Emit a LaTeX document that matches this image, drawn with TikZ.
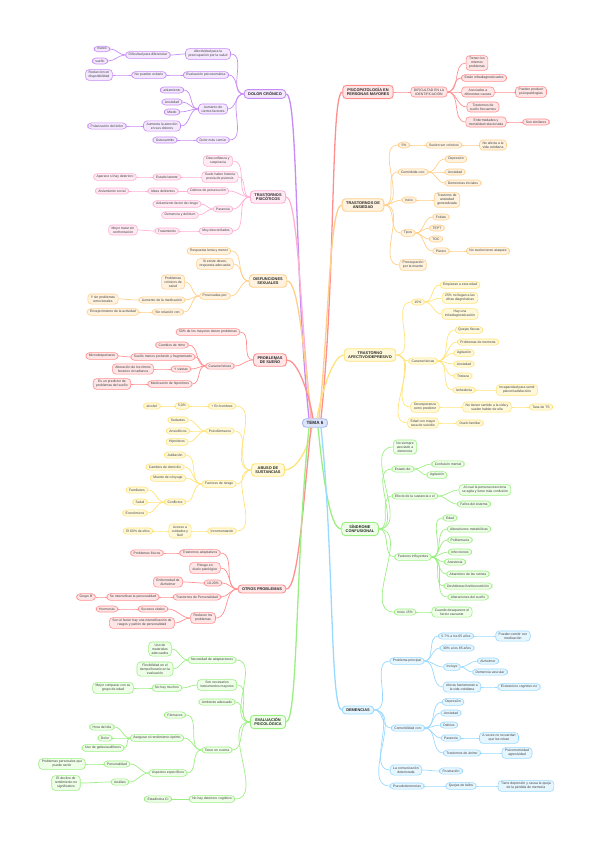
\documentclass[tikz,border=0pt]{standalone}
\usepackage{fontspec}
\setmainfont{Liberation Sans}
\usetikzlibrary{positioning}

\definecolor{purpL}{HTML}{C78BF5}\definecolor{purpF}{HTML}{F4E8FF}
\definecolor{pinkL}{HTML}{FFB0D5}\definecolor{pinkF}{HTML}{FFEAF3}
\definecolor{orngL}{HTML}{FFCF8A}\definecolor{orngF}{HTML}{FFF2DF}
\definecolor{redL}{HTML}{FF8F8F}\definecolor{redF}{HTML}{FFE5E5}
\definecolor{yellL}{HTML}{FFE37A}\definecolor{yellF}{HTML}{FFF9DA}
\definecolor{grnL}{HTML}{9BEF82}\definecolor{grnF}{HTML}{EDFFE6}
\definecolor{bluL}{HTML}{9AD9FF}\definecolor{bluF}{HTML}{E6F6FF}
\definecolor{temaL}{HTML}{A9B9F2}\definecolor{temaF}{HTML}{DDE5FB}

\tikzset{
  bx/.style={draw=#1L, fill=#1F, rounded corners=3.5pt, line width=0.6pt,
    inner xsep=3pt, inner ysep=1.8pt, align=center, text=black!75,
    font=\fontsize{3.4}{4}\selectfont},
  hub/.style={bx=#1, line width=0.9pt, inner xsep=4pt, inner ysep=2.6pt,
    text=black!85, font=\fontsize{3.9}{4.5}\selectfont\bfseries},
  ln/.style={draw=#1L, line width=0.7pt},
  hubln/.style={draw=#1L, line width=1.3pt},
}

\begin{document}
\begin{tikzpicture}[x=1pt, y=1pt]
    \useasboundingbox (0,0) rectangle (599,-848);

    % centre
    \node[hub=tema, font=\fontsize{4.6}{5}\selectfont\bfseries] (tema) at (315,-423) {TEMA 6};

    % ---------------- left side ----------------
    % dolor cronico
    \node[hub=purp] (dol) at (265,-94) {DOLOR CRÓNICO};
    \node[bx=purp] (d1) at (208,-54) {Afectividad para la\\preocupación por la salud};
    \node[bx=purp] (d11) at (148,-55) {Dificultad para diferenciar};
    \node[bx=purp] (d111) at (102,-49) {mareo};
    \node[bx=purp] (d112) at (100,-61) {sueño};
    \node[bx=purp] (d2) at (206,-75) {Evaluación psicosomática};
    \node[bx=purp] (d21) at (149,-75) {No pueden evitarlo};
    \node[bx=purp] (d211) at (99,-75) {Reducción en\\disponibilidad};
    \node[bx=purp] (d3) at (213,-109) {Aumento de\\ciertos factores};
    \node[bx=purp] (d31) at (172,-90) {aislamiento};
    \node[bx=purp] (d32) at (172,-102) {Ansiedad};
    \node[bx=purp] (d33) at (172,-112) {Miedo};
    \node[bx=purp] (d34) at (162,-126) {Aumenta la atención\\en sus dolores};
    \node[bx=purp] (d341) at (107,-126) {Polarización del dolor};
    \node[bx=purp] (d4) at (213,-140) {Dolor más común};
    \node[bx=purp] (d41) at (165,-140) {Osteoartritis};

    % trastornos psicoticos
    \node[hub=pink] (psc) at (268,-197) {TRASTORNOS\\PSICÓTICOS};
    \node[bx=pink] (p1) at (218,-161) {Desconfianza y\\suspicacia};
    \node[bx=pink] (p2) at (220,-177) {Suele haber historia\\previa de psicosis};
    \node[bx=pink] (p21) at (167,-177) {Estado latente};
    \node[bx=pink] (p211) at (115,-177) {Aparece si hay deterioro};
    \node[bx=pink] (p3) at (208,-191) {Delirios de persecución};
    \node[bx=pink] (p31) at (163,-191) {Ideas delirantes};
    \node[bx=pink] (p311) at (112,-191) {Aislamiento social};
    \node[bx=pink] (p4) at (223,-209) {Paranoia};
    \node[bx=pink] (p41) at (177,-204) {Aislamiento factor de riesgo};
    \node[bx=pink] (p42) at (180,-215) {Demencia y delirium};
    \node[bx=pink] (p5) at (216,-231) {Muy desconfiados};
    \node[bx=pink] (p51) at (167,-231) {Tratamiento};
    \node[bx=pink] (p511) at (123,-230) {Mejor tratar sin\\confrontación};

    % disfunciones sexuales
    \node[hub=orng] (dsx) at (268,-281) {DISFUNCIONES\\SEXUALES};
    \node[bx=orng] (s1) at (209,-251) {Respuesta lenta y menor};
    \node[bx=orng] (s2) at (215,-264) {Si existe deseo,\\respuesta adecuada};
    \node[bx=orng] (s3) at (215,-296) {Provocadas por:};
    \node[bx=orng] (s31) at (173,-282) {Problemas\\crónicos de\\salud};
    \node[bx=orng] (s32) at (162,-300) {Aumento de la medicación};
    \node[bx=orng] (s321) at (103,-299) {Y sin problemas\\emocionales};
    \node[bx=orng] (s33) at (168,-312) {Sin relación con:};
    \node[bx=orng] (s331) at (113,-312) {Envejecimiento de la actividad};

    % problemas de sueno
    \node[hub=red] (sue) at (270,-360) {PROBLEMAS\\DE SUEÑO};
    \node[bx=red] (u1) at (208,-332) {50\% de los mayores tienen problemas};
    \node[bx=red] (u2) at (220,-366) {Características};
    \node[bx=red] (u21) at (172,-345) {Cambios de ritmo};
    \node[bx=red] (u22) at (163,-357) {Sueño menos profundo y fragmentado};
    \node[bx=red] (u221) at (102,-356) {Microdespertares};
    \node[bx=red] (u23) at (181,-369) {Y siestas};
    \node[bx=red] (u231) at (133,-369) {Alteración de los ritmos\\horarios circadianos};
    \node[bx=red] (u24) at (170,-384) {Medicación de hipnóticos};
    \node[bx=red] (u241) at (112,-384) {Es un predictor de\\problemas del sueño};

    % abuso de sustancias
    \node[hub=yell] (abu) at (268,-470) {ABUSO DE\\SUSTANCIAS};
    \node[bx=yell] (a1) at (222,-406) {+ En hombres};
    \node[bx=yell] (a11) at (182,-406) {5,0\%};
    \node[bx=yell] (a111) at (152,-406) {alcohol};
    \node[bx=yell] (a2) at (220,-431) {Psicofármacos};
    \node[bx=yell] (a21) at (178,-420) {Sedantes};
    \node[bx=yell] (a22) at (178,-431) {Ansiolíticos};
    \node[bx=yell] (a23) at (177,-442) {Hipnóticos};
    \node[bx=yell] (a3) at (219,-484) {Factores de riesgo};
    \node[bx=yell] (a31) at (175,-455) {Jubilación};
    \node[bx=yell] (a32) at (165,-467) {Cambios de domicilio};
    \node[bx=yell] (a33) at (168,-478) {Muerte de cónyuge};
    \node[bx=yell] (a34) at (175,-502) {Conflictos};
    \node[bx=yell] (a341) at (137,-490) {Familiares};
    \node[bx=yell] (a342) at (140,-502) {Salud};
    \node[bx=yell] (a343) at (135,-513) {Económicos};
    \node[bx=yell] (a4) at (222,-531) {Incrementando};
    \node[bx=yell] (a41) at (180,-531) {Acceso a\\cuidados y\\fácil};
    \node[bx=yell] (a411) at (138,-531) {El 60\% de ellos};

    % otros problemas
    \node[hub=red] (otr) at (262,-589) {OTROS PROBLEMAS};
    \node[bx=red] (o1) at (200,-553) {Trastornos adaptativos};
    \node[bx=red] (o11) at (147,-553) {Problemas físicos};
    \node[bx=red] (o2) at (205,-568) {Riesgo en\\duelo patológico};
    \node[bx=red] (o3) at (213,-583) {10-20\%};
    \node[bx=red] (o31) at (168,-582) {Enfermedad de\\Alzheimer};
    \node[bx=red] (o4) at (197,-597) {Trastornos de Personalidad};
    \node[bx=red] (o41) at (133,-597) {Se intensifican la personalidad};
    \node[bx=red] (o411) at (86,-597) {Grupo B};
    \node[bx=red] (o5) at (203,-618) {Reducen los\\problemas};
    \node[bx=red] (o51) at (153,-609) {Sucesos vitales};
    \node[bx=red] (o511) at (107,-609) {Hormonas};
    \node[bx=red] (o52) at (142,-623) {Son el factor hay una intensificación de\\rasgos y patrón de personalidad};

    % evaluacion psicologica
    \node[hub=grn] (eva) at (268,-722) {EVALUACIÓN\\PSICOLÓGICA};
    \node[bx=grn] (e1) at (212,-660) {Necesidad de adaptaciones};
    \node[bx=grn] (e11) at (160,-649) {Uso de\\materiales\\adecuados};
    \node[bx=grn] (e12) at (155,-669) {Flexibilidad en el\\tiempo/horario en la\\evaluación};
    \node[bx=grn] (e2) at (217,-685) {Son necesarios\\instrumentos mayores};
    \node[bx=grn] (e21) at (167,-688) {No hay muchos};
    \node[bx=grn] (e211) at (113,-688) {Mejor comparar con su\\grupo de edad};
    \node[bx=grn] (e3) at (217,-702) {Ambiente adecuado};
    \node[bx=grn] (e4) at (217,-750) {Tener en cuenta};
    \node[bx=grn] (e41) at (175,-715) {Fármacos};
    \node[bx=grn] (e42) at (157,-738) {Asegurar el rendimiento óptimo};
    \node[bx=grn] (e421) at (102,-727) {Hora del día};
    \node[bx=grn] (e422) at (105,-738) {Dolor};
    \node[bx=grn] (e423) at (103,-748) {Uso de gafas/audífonos};
    \node[bx=grn] (e43) at (168,-773) {Aspectos específicos};
    \node[bx=grn] (e431) at (117,-764) {Personalidad};
    \node[bx=grn] (e4311) at (62,-764) {Problemas personales que\\puede sentir};
    \node[bx=grn] (e432) at (120,-782) {Análisis};
    \node[bx=grn] (e4321) at (66,-783) {El declive de\\rendimiento no\\significativo};
    \node[bx=grn] (e5) at (212,-799) {No hay deterioro cognitivo};
    \node[bx=grn] (e51) at (158,-799) {Estadística CI};

    % ---------------- right side ----------------
    % psicopatologia
    \node[hub=red] (psi) at (368,-92) {PSICOPATOLOGÍA EN\\PERSONAS MAYORES};
    \node[bx=red] (r1) at (429,-92) {DIFICULTAD EN LA\\IDENTIFICACIÓN};
    \node[bx=red] (r11) at (477,-63) {Tienen los\\mismos\\problemas};
    \node[bx=red] (r12) at (484,-78) {Están infradiagnosticados};
    \node[bx=red] (r13) at (478,-92) {Asociados a\\diferentes causas};
    \node[bx=red] (r131) at (531,-92) {Pueden producir\\psicopatologías};
    \node[bx=red] (r14) at (483,-107) {Trastornos de\\sueño frecuentes};
    \node[bx=red] (r15) at (486,-122) {Enfermedades y\\mortalidad relacionada};
    \node[bx=red] (r151) at (536,-122) {Son similares};

    % ansiedad
    \node[hub=orng] (ans) at (363,-205) {TRASTORNOS DE\\ANSIEDAD};
    \node[bx=orng] (n1) at (404,-145) {5\%};
    \node[bx=orng] (n11) at (444,-145) {Suelen ser crónicos};
    \node[bx=orng] (n111) at (493,-145) {No afecta a la\\vida cotidiana};
    \node[bx=orng] (n2) at (413,-172) {Comórbida con:};
    \node[bx=orng] (n21) at (456,-159) {Depresión};
    \node[bx=orng] (n22) at (455,-172) {Ansiedad};
    \node[bx=orng] (n23) at (463,-183) {Demencias iniciales};
    \node[bx=orng] (n3) at (409,-200) {Inicio};
    \node[bx=orng] (n31) at (447,-200) {Trastorno de\\ansiedad\\generalizada};
    \node[bx=orng] (n4) at (408,-233) {Tipos};
    \node[bx=orng] (n41) at (441,-217) {Fobias};
    \node[bx=orng] (n42) at (437,-228) {TEPT};
    \node[bx=orng] (n43) at (436,-239) {TOC};
    \node[bx=orng] (n44) at (441,-251) {Pánico};
    \node[bx=orng] (n441) at (488,-251) {No suelen tener ataques};
    \node[bx=orng] (n5) at (413,-265) {Preocupación\\por la muerte};

    % afectivo / depresivo
    \node[hub=yell] (afe) at (370,-355) {TRASTORNO\\AFECTIVO/DEPRESIVO};
    \node[bx=yell] (f1) at (418,-302) {15\%};
    \node[bx=yell] (f11) at (460,-285) {Empiezan a esta edad};
    \node[bx=yell] (f12) at (460,-298) {25\% no llegan a las\\cifras diagnósticas};
    \node[bx=yell] (f13) at (460,-314) {Hay una\\infradiagnosticación};
    \node[bx=yell] (f2) at (423,-361) {Características};
    \node[bx=yell] (f21) at (469,-330) {Quejas físicas};
    \node[bx=yell] (f22) at (478,-342) {Problemas de memoria};
    \node[bx=yell] (f23) at (464,-353) {Agitación};
    \node[bx=yell] (f24) at (464,-364) {Ansiedad};
    \node[bx=yell] (f25) at (463,-376) {Tristeza};
    \node[bx=yell] (f26) at (464,-390) {Anhedonia};
    \node[bx=yell] (f261) at (517,-390) {Incapacidad para sentir\\placer/satisfacción};
    \node[bx=yell] (f3) at (425,-407) {Desesperanza\\como predictor};
    \node[bx=yell] (f31) at (487,-407) {No tienen sentido a la vida y\\suelen hablar de ella};
    \node[bx=yell] (f311) at (541,-407) {Tasa de TS};
    \node[bx=yell] (f4) at (423,-423) {Edad con mayor\\tasa de suicidio};
    \node[bx=yell] (f41) at (470,-423) {Duelo familiar};

    % delirium
    \node[hub=grn] (del) at (360,-529) {SÍNDROME\\CONFUSIONAL};
    \node[bx=grn] (l1) at (405,-447) {No siempre\\asociado a\\demencia};
    \node[bx=grn] (l2) at (403,-469) {Estado de:};
    \node[bx=grn] (l21) at (448,-464) {Confusión mental};
    \node[bx=grn] (l22) at (437,-475) {Agitación};
    \node[bx=grn] (l3) at (415,-496) {Efecto de la sustancia o el};
    \node[bx=grn] (l31) at (485,-490) {Al cual la persona reacciona\\se agita y tiene más confusión};
    \node[bx=grn] (l32) at (474,-504) {Fallos del sistema};
    \node[bx=grn] (l4) at (413,-557) {Factores influyentes};
    \node[bx=grn] (l41) at (450,-518) {Edad};
    \node[bx=grn] (l42) at (469,-529) {Alteraciones metabólicas};
    \node[bx=grn] (l43) at (460,-540) {Polifarmacia};
    \node[bx=grn] (l44) at (460,-552) {Infecciones};
    \node[bx=grn] (l45) at (455,-562) {Anestesia};
    \node[bx=grn] (l46) at (468,-574) {Abandono de las rutinas};
    \node[bx=grn] (l47) at (468,-586) {Deshidratación/desnutrición};
    \node[bx=grn] (l48) at (468,-597) {Alteraciones del sueño};
    \node[bx=grn] (l5) at (405,-612) {Inicio 15\%};
    \node[bx=grn] (l51) at (452,-612) {Cuando desaparece el\\factor causante};

    % demencias
    \node[hub=blu] (dem) at (358,-710) {DEMENCIAS};
    \node[bx=blu] (m1) at (407,-661) {Problema principal};
    \node[bx=blu] (m11) at (456,-636) {5-7\% a los 65 años};
    \node[bx=blu] (m111) at (513,-636) {Pueden remitir con\\medicación};
    \node[bx=blu] (m12) at (457,-648) {30\% a los 85 años};
    \node[bx=blu] (m13) at (452,-667) {Incluye};
    \node[bx=blu] (m131) at (488,-661) {Alzheimer};
    \node[bx=blu] (m132) at (490,-672) {Demencia vascular};
    \node[bx=blu] (m14) at (462,-687) {Afecta fuertemente a\\la vida cotidiana};
    \node[bx=blu] (m141) at (519,-687) {El deterioro cognitivo no};
    \node[bx=blu] (m2) at (408,-728) {Comorbilidad con:};
    \node[bx=blu] (m21) at (453,-702) {Depresión};
    \node[bx=blu] (m22) at (451,-713) {Ansiedad};
    \node[bx=blu] (m23) at (449,-725) {Delirios};
    \node[bx=blu] (m24) at (451,-738) {Paranoia};
    \node[bx=blu] (m241) at (499,-738) {A veces no recuerdan\\que les roban};
    \node[bx=blu] (m25) at (462,-753) {Trastornos de ánimo};
    \node[bx=blu] (m251) at (517,-753) {Psicomotricidad\\agresividad};
    \node[bx=blu] (m3) at (406,-770) {La comunicación\\deteriorada};
    \node[bx=blu] (m31) at (451,-771) {Frustración};
    \node[bx=blu] (m4) at (407,-786) {Pseudodemencias};
    \node[bx=blu] (m41) at (461,-786) {Quejas de fallos};
    \node[bx=blu] (m411) at (526,-786) {Tiene depresión y causa la queja\\de la pérdida de memoria};

    % ---------------- branches to the centre ----------------
    \begin{scope}[on background layer/.try]
    \draw[hubln=purp] (dol.east) to[out=0,in=96,out distance=12pt,in distance=140pt] ([xshift=-6pt]tema.north);
    \draw[hubln=pink] (psc.east) to[out=0,in=96,out distance=12pt,in distance=100pt] ([xshift=-4pt]tema.north);
    \draw[hubln=orng] (dsx.east) to[out=0,in=98,out distance=12pt,in distance=60pt] ([xshift=-3pt]tema.north);
    \draw[hubln=red] (sue.east) to[out=0,in=100,out distance=10pt,in distance=30pt] ([xshift=-2pt]tema.north);
    \draw[hubln=yell] (abu.east) to[out=0,in=-100,out distance=10pt,in distance=25pt] ([xshift=-3pt]tema.south);
    \draw[hubln=red] (otr.east) to[out=0,in=-96,out distance=12pt,in distance=75pt] ([xshift=-4pt]tema.south);
    \draw[hubln=grn] (eva.east) to[out=0,in=-96,out distance=12pt,in distance=130pt] ([xshift=-6pt]tema.south);
    \draw[hubln=red] (psi.west) to[out=180,in=84,out distance=12pt,in distance=145pt] ([xshift=6pt]tema.north);
    \draw[hubln=orng] (ans.west) to[out=180,in=84,out distance=12pt,in distance=95pt] ([xshift=4pt]tema.north);
    \draw[hubln=yell] (afe.west) to[out=180,in=80,out distance=10pt,in distance=30pt] ([xshift=2pt]tema.north);
    \draw[hubln=grn] (del.west) to[out=180,in=-84,out distance=12pt,in distance=45pt] ([xshift=3pt]tema.south);
    \draw[hubln=blu] (dem.west) to[out=180,in=-84,out distance=12pt,in distance=125pt] ([xshift=6pt]tema.south);
    \end{scope}

    % ---------------- child connectors ----------------
    \foreach \p/\c in {dol/d1, d1/d11, d11/d111, d11/d112, dol/d2, d2/d21, d21/d211,
        dol/d3, d3/d31, d3/d32, d3/d33, d3/d34, d34/d341, dol/d4, d4/d41}
      \draw[ln=purp] (\p.west) to[out=180,in=0] (\c.east);
    \foreach \p/\c in {psc/p1, psc/p2, p2/p21, p21/p211, psc/p3, p3/p31, p31/p311,
        psc/p4, p4/p41, p4/p42, psc/p5, p5/p51, p51/p511}
      \draw[ln=pink] (\p.west) to[out=180,in=0] (\c.east);
    \foreach \p/\c in {dsx/s1, dsx/s2, dsx/s3, s3/s31, s3/s32, s32/s321, s3/s33, s33/s331}
      \draw[ln=orng] (\p.west) to[out=180,in=0] (\c.east);
    \foreach \p/\c in {sue/u1, sue/u2, u2/u21, u2/u22, u22/u221, u2/u23, u23/u231, u2/u24, u24/u241,
        otr/o1, o1/o11, otr/o2, otr/o3, o3/o31, otr/o4, o4/o41, o41/o411, otr/o5, o5/o51, o51/o511, o5/o52}
      \draw[ln=red] (\p.west) to[out=180,in=0] (\c.east);
    \foreach \p/\c in {abu/a1, a1/a11, a11/a111, abu/a2, a2/a21, a2/a22, a2/a23, abu/a3, a3/a31,
        a3/a32, a3/a33, a3/a34, a34/a341, a34/a342, a34/a343, abu/a4, a4/a41, a41/a411}
      \draw[ln=yell] (\p.west) to[out=180,in=0] (\c.east);
    \foreach \p/\c in {eva/e1, e1/e11, e1/e12, eva/e2, e2/e21, e21/e211, eva/e3, eva/e4, e4/e41,
        e4/e42, e42/e421, e42/e422, e42/e423, e4/e43, e43/e431, e431/e4311, e43/e432, e432/e4321,
        eva/e5, e5/e51}
      \draw[ln=grn] (\p.west) to[out=180,in=0] (\c.east);

    \foreach \p/\c in {psi/r1, r1/r11, r1/r12, r1/r13, r13/r131, r1/r14, r1/r15, r15/r151}
      \draw[ln=red] (\p.east) to[out=0,in=180] (\c.west);
    \foreach \p/\c in {ans/n1, n1/n11, n11/n111, ans/n2, n2/n21, n2/n22, n2/n23, ans/n3, n3/n31,
        ans/n4, n4/n41, n4/n42, n4/n43, n4/n44, n44/n441, ans/n5}
      \draw[ln=orng] (\p.east) to[out=0,in=180] (\c.west);
    \foreach \p/\c in {afe/f1, f1/f11, f1/f12, f1/f13, afe/f2, f2/f21, f2/f22, f2/f23, f2/f24,
        f2/f25, f2/f26, f26/f261, afe/f3, f3/f31, f31/f311, afe/f4, f4/f41}
      \draw[ln=yell] (\p.east) to[out=0,in=180] (\c.west);
    \foreach \p/\c in {del/l1, del/l2, l2/l21, l2/l22, del/l3, l3/l31, l3/l32, del/l4, l4/l41,
        l4/l42, l4/l43, l4/l44, l4/l45, l4/l46, l4/l47, l4/l48, del/l5, l5/l51}
      \draw[ln=grn] (\p.east) to[out=0,in=180] (\c.west);
    \foreach \p/\c in {dem/m1, m1/m11, m11/m111, m1/m12, m1/m13, m13/m131, m13/m132, m1/m14,
        m14/m141, dem/m2, m2/m21, m2/m22, m2/m23, m2/m24, m24/m241, m2/m25, m25/m251,
        dem/m3, m3/m31, dem/m4, m4/m41, m41/m411}
      \draw[ln=blu] (\p.east) to[out=0,in=180] (\c.west);

\end{tikzpicture}
\end{document}
